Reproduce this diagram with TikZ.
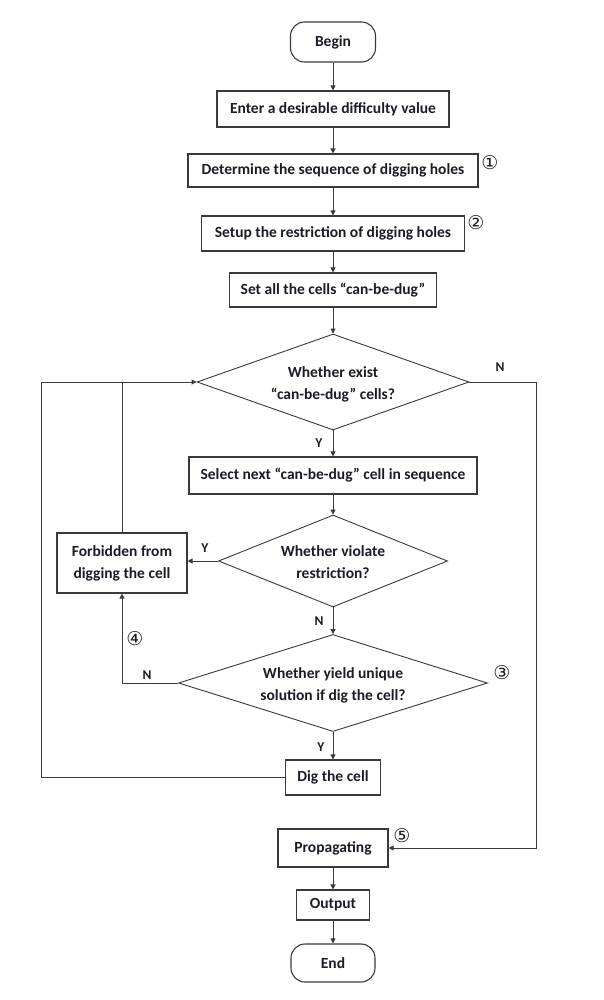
\documentclass[tikz,border=0pt]{standalone}
\usepackage{fontspec}
\setmainfont{Carlito}
\newfontfamily\dejavu{DejaVu Sans}
\usetikzlibrary{shapes.geometric,arrows.meta}
\definecolor{linec}{HTML}{3A3A3A}
\definecolor{txtc}{HTML}{1C1C28}
\tikzset{
 base/.style={text=txtc, font=\fontsize{15.5}{22}\selectfont\bfseries, align=center, inner sep=0pt},
 box/.style={base, draw=linec, line width=1.1pt},
 term/.style={box, rounded corners=14pt},
 dia/.style={diamond, draw=linec, line width=0.9pt, inner sep=0pt},
 dtext/.style={base},
 arr/.style={draw=linec, line width=0.9pt, -{Triangle[length=5pt,width=5pt]}},
 conn/.style={draw=linec, line width=0.9pt},
 yn/.style={text=txtc, font=\fontsize{13.5}{14}\selectfont\bfseries, inner sep=0pt},
 num/.style={text=txtc, font=\dejavu\fontsize{19}{19}\selectfont, inner sep=0pt},
}
\begin{document}
\begin{tikzpicture}[x=1pt,y=-1pt]
\useasboundingbox[fill=white] (0,0) rectangle (603,1000);
\node[term, minimum width=85pt, minimum height=40pt] (begin) at (333,42) {Begin};
\node[box, minimum width=232pt, minimum height=36pt] (enter) at (333,109) {Enter a desirable difficulty value};
\node[box, minimum width=290pt, minimum height=33pt] (det) at (333,170.5) {Determine the sequence of digging holes};
\node[box, minimum width=263pt, minimum height=35pt] (setup) at (333,233.5) {Setup the restriction of digging holes};
\node[box, minimum width=207pt, minimum height=34pt] (setall) at (333,290) {Set all the cells “can-be-dug”};
\node[dia, minimum width=272pt, minimum height=96pt] (d1) at (333,382) {};
\node[dtext] (d1t) at (333,384) {Whether exist\\“can-be-dug” cells?};
\node[box, minimum width=288pt, minimum height=37pt] (sel) at (333,475.5) {Select next “can-be-dug” cell in sequence};
\node[dia, minimum width=229pt, minimum height=92pt] (d2) at (333,561) {};
\node[dtext] (d2t) at (333,562) {Whether violate\\restriction?};
\node[box, minimum width=130pt, minimum height=60pt] (forb) at (122,563) {Forbidden from\\digging the cell};
\node[dia, minimum width=309pt, minimum height=97pt] (d3) at (333,683) {};
\node[dtext] (d3t) at (333,685) {Whether yield unique\\solution if dig the cell?};
\node[box, minimum width=95pt, minimum height=35pt] (dig) at (333,777.5) {Dig the cell};
\node[box, minimum width=110pt, minimum height=38pt] (prop) at (333,848) {Propagating};
\node[box, minimum width=73pt, minimum height=30pt] (out) at (333,905) {Output};
\node[term, minimum width=84pt, minimum height=38pt] (end) at (333,963) {End};
\node[yn] (n1) at (500,367) {N};
\node[yn] (y1) at (319,443) {Y};
\node[yn] (y2) at (205,548) {Y};
\node[yn] (n2) at (319,621) {N};
\node[yn] (n3) at (147,675) {N};
\node[yn] (y3) at (321,747) {Y};
\node[num] (c1) at (490,163) {①};
\node[num] (c2) at (476,223) {②};
\node[num] (c3) at (502,673) {③};
\node[num] (c4) at (135,639) {④};
\node[num] (c5) at (402,836) {⑤};
\coordinate (lc) at (41,382);
\coordinate (rc) at (536,382);
\draw[arr] (begin) -- (enter);
\draw[arr] (enter) -- (det);
\draw[arr] (det) -- (setup);
\draw[arr] (setup) -- (setall);
\draw[arr] (setall) -- (d1.north);
\draw[arr] (d1.south) -- (sel);
\draw[arr] (sel) -- (d2.north);
\draw[arr] (d2.west) -- (forb.east |- d2.west);
\draw[arr] (d2.south) -- (d3.north);
\draw[arr] (d3.south) -- (dig);
\draw[arr] (d3.west) -| (forb.south);
\draw[conn] (forb.north) -- (forb.north |- d1.west);
\draw[arr] (dig.west) -| (lc) -- (d1.west);
\draw[arr] (d1.east) -- (rc) |- (prop.east);
\draw[arr] (prop) -- (out);
\draw[arr] (out) -- (end);
\end{tikzpicture}
\end{document}
